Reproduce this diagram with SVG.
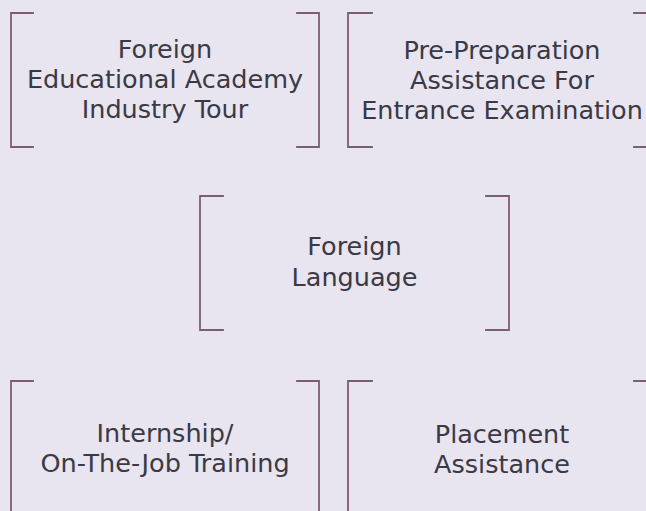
<svg xmlns="http://www.w3.org/2000/svg" width="646" height="511" viewBox="0 0 646 511">
<style>
.br{fill:none;stroke:#7b5d74;stroke-width:1.8;stroke-linecap:square}
.t{font-family:"DejaVu Sans","Open Sans",sans-serif;font-size:25.5px;fill:#3a3944;text-anchor:middle}
</style>
<rect width="646" height="511" fill="#e8e4f0"/>
<g id="connectors"></g>
<g id="node1">
<path class="br" d="M33 13H11V147H33M297 13H319V147H297"/>
<text class="t" y="58"><tspan x="165">Foreign</tspan><tspan x="165" dy="30">Educational Academy</tspan><tspan x="165" dy="30">Industry Tour</tspan></text>
</g>
<g id="node2">
<path class="br" d="M372 13H348V147H372M634 13H656V147H634"/>
<text class="t" y="59"><tspan x="502">Pre-Preparation</tspan><tspan x="502" dy="30">Assistance For</tspan><tspan x="502" dy="30">Entrance Examination</tspan></text>
</g>
<g id="node3">
<path class="br" d="M223 196H200V330H223M486 196H509V330H486"/>
<text class="t" y="255"><tspan x="354.5">Foreign</tspan><tspan x="354.5" dy="31">Language</tspan></text>
</g>
<g id="node4">
<path class="br" d="M33 381H11V515H33M297 381H319V515H297"/>
<text class="t" y="442"><tspan x="165">Internship/</tspan><tspan x="165" dy="30">On-The-Job Training</tspan></text>
</g>
<g id="node5">
<path class="br" d="M372 381H348V515H372M634 381H656V515H634"/>
<text class="t" y="443"><tspan x="502">Placement</tspan><tspan x="502" dy="30">Assistance</tspan></text>
</g>
</svg>
